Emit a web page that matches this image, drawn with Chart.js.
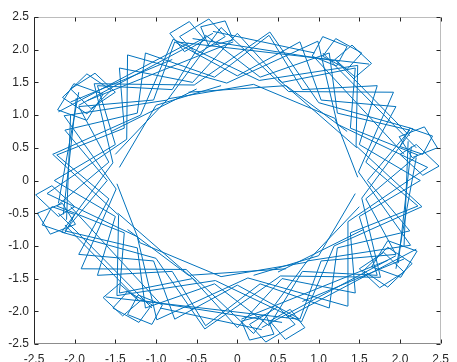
<!DOCTYPE html>
<html>
<head>
<meta charset="utf-8">
<script src="https://cdn.jsdelivr.net/npm/chart.js@4/dist/chart.umd.min.js"></script>
<style>
  html, body { margin: 0; padding: 0; background: #fff; }
  canvas { display: block; }
</style>
</head>
<body>
<canvas id="curve" width="457" height="362"></canvas>
<script>
// tick values on both axes
const xTicks = [-2.5, -2, -1.5, -1, -0.5, 0, 0.5, 1, 1.5, 2, 2.5];
const yTicks = [-2.5, -2, -1.5, -1, -0.5, 0, 0.5, 1, 1.5, 2, 2.5];

// long outer strokes (null = pen up)
const bands = [
  [-2.20, 1.05], [-0.60, 2.10], null,
  [-1.85, 1.22], [-0.05, 2.12], null,
  [-1.95, 1.15], [-0.30, 2.25], null,
  [-2.05, 1.20], [-0.80, 1.85], null,
  [-0.55, 2.17], [1.20, 1.83], null,
  [-0.75, 2.12], [1.62, 1.78], null,
  [-0.30, 2.28], [0.95, 1.95], null,
  [1.05, 1.95], [2.20, 0.50], null,
  [1.20, 1.85], [2.12, 0.68], null,
  [0.95, 1.88], [2.05, 0.40], null,
  [2.14, 0.52], [1.98, -1.26], null,
  [2.10, 0.60], [2.05, -1.00], null,
  [2.20, 0.35], [1.95, -1.35], null,
  [2.20, -1.05], [0.60, -2.10], null,
  [1.85, -1.22], [0.05, -2.12], null,
  [1.95, -1.15], [0.30, -2.25], null,
  [2.05, -1.20], [0.80, -1.85], null,
  [0.55, -2.17], [-1.20, -1.83], null,
  [0.75, -2.12], [-1.62, -1.78], null,
  [0.30, -2.28], [-0.95, -1.95], null,
  [-1.05, -1.95], [-2.20, -0.50], null,
  [-1.20, -1.85], [-2.12, -0.68], null,
  [-0.95, -1.88], [-2.05, -0.40], null,
  [-2.14, -0.52], [-1.98, 1.26], null,
  [-2.10, -0.60], [-2.05, 1.00], null,
  [-2.20, -0.35], [-1.95, 1.35]
];

// strokes along the inner hole
const inner = [
  [-1.50, 0.40], [-0.85, 1.25], [0.20, 1.47], [1.20, 0.95], [1.48, 0.05], null,
  [-1.45, 0.20], [-1.00, 1.15], [-0.20, 1.45], null,
  [-0.60, 1.35], [0.60, 1.45], [1.35, 0.75], null,
  [0.50, 1.55], [1.47, 0.50], null,
  [-1.55, 0.75], [-0.50, 1.40], null,
  [1.50, -0.40], [0.85, -1.25], [-0.20, -1.47], [-1.20, -0.95], [-1.48, -0.05], null,
  [1.45, -0.20], [1.00, -1.15], [0.20, -1.45], null,
  [0.60, -1.35], [-0.60, -1.45], [-1.35, -0.75], null,
  [-0.50, -1.55], [-1.47, -0.50], null,
  [1.55, -0.75], [0.50, -1.40]
];

// zig-zag strokes bouncing between the hole and the outer rim
const zigA = [
  [2.25, 0], [1.50, 0.55], [1.72, 1.45], [0.80, 1.39], [0.39, 2.22], [-0.28, 1.58],
  [-1.13, 1.95], [-1.23, 1.03], [-2.12, 0.77], [-1.60, 0], [-2.12, -0.77], [-1.23, -1.03],
  [-1.13, -1.95], [-0.28, -1.58], [0.39, -2.22], [0.80, -1.39], [1.72, -1.45], [1.50, -0.55],
  [2.25, 0]
];
const zigB = [
  [1.60, 0], [2.12, 0.77], [1.23, 1.03], [1.13, 1.95], [0.28, 1.58], [-0.39, 2.22],
  [-0.80, 1.39], [-1.72, 1.45], [-1.50, 0.55], [-2.25, 0], [-1.50, -0.55], [-1.72, -1.45],
  [-0.80, -1.39], [-0.39, -2.22], [0.28, -1.58], [1.13, -1.95], [1.23, -1.03], [2.12, -0.77],
  [1.60, 0]
];
const zigC = [
  [2.22, 0.39], [1.39, 0.80], [1.45, 1.72], [0.55, 1.50], [0, 2.25], [-0.55, 1.50],
  [-1.45, 1.72], [-1.39, 0.80], [-2.22, 0.39], [-1.58, -0.28], [-1.95, -1.13], [-1.03, -1.23],
  [-0.77, -2.12], [0, -1.60], [0.77, -2.12], [1.03, -1.23], [1.95, -1.13], [1.58, -0.28],
  [2.22, 0.39]
];
const zigD = [
  [1.58, 0.28], [1.95, 1.13], [1.03, 1.23], [0.77, 2.12], [0, 1.60], [-0.77, 2.12],
  [-1.03, 1.23], [-1.95, 1.13], [-1.58, 0.28], [-2.22, -0.39], [-1.39, -0.80], [-1.45, -1.72],
  [-0.55, -1.50], [0, -2.25], [0.55, -1.50], [1.45, -1.72], [1.39, -0.80], [2.22, -0.39],
  [1.58, 0.28]
];

// longer, flatter zig-zags
const zigE = [
  [2.34, 0.20], [1.23, 0.86], [0.99, 2.13], [-0.13, 1.49], [-1.35, 1.92], [-1.36, 0.63],
  [-2.34, -0.20], [-1.23, -0.86], [-0.99, -2.13], [0.13, -1.49], [1.35, -1.92], [1.36, -0.63],
  [2.34, 0.20]
];
const zigF = [
  [1.49, 0.13], [1.92, 1.35], [0.63, 1.36], [-0.20, 2.34], [-0.86, 1.23], [-2.13, 0.99],
  [-1.49, -0.13], [-1.92, -1.35], [-0.63, -1.36], [0.20, -2.34], [0.86, -1.23], [2.13, -0.99],
  [1.49, 0.13]
];
const zigG = [
  [2.16, 0.79], [1.00, 1.19], [0.40, 2.27], [-0.53, 1.46], [-1.76, 1.48], [-1.53, 0.27],
  [-2.16, -0.79], [-1.00, -1.19], [-0.40, -2.27], [0.53, -1.46], [1.76, -1.48], [1.53, -0.27],
  [2.16, 0.79]
];
const zigH = [
  [1.46, 0.53], [1.48, 1.76], [0.27, 1.53], [-0.79, 2.16], [-1.19, 1.00], [-2.27, 0.40],
  [-1.46, -0.53], [-1.48, -1.76], [-0.27, -1.53], [0.79, -2.16], [1.19, -1.00], [2.27, -0.40],
  [1.46, 0.53]
];

// the little tilted squares sticking out at each lobe
const lobes = [
  [2.12, 0.80], [2.40, 0.68], [2.28, 0.40], [2.00, 0.52], [2.12, 0.80], null,
  [2.30, 0.82], [2.46, 0.50], [2.15, 0.35], [1.99, 0.67], [2.30, 0.82], null,
  [2.20, 0.55], [2.48, 0.22], [2.28, 0.08], [2.00, 0.40], [2.20, 0.55], null,
  [1.05, 2.20], [1.35, 2.05], [1.22, 1.75], [0.92, 1.90], [1.05, 2.20], null,
  [1.21, 2.17], [1.53, 1.95], [1.35, 1.70], [1.05, 1.90], [1.21, 2.17], null,
  [1.41, 2.07], [1.65, 1.79], [1.45, 1.58], [1.20, 1.85], [1.41, 2.07], null,
  [-0.83, 2.25], [-0.59, 2.43], [-0.40, 2.15], [-0.65, 1.97], [-0.83, 2.25], null,
  [-0.71, 2.20], [-0.35, 2.47], [-0.15, 2.20], [-0.50, 1.93], [-0.71, 2.20], null,
  [-0.45, 2.35], [-0.15, 2.44], [-0.05, 2.15], [-0.35, 2.05], [-0.45, 2.35], null,
  [-2.21, 1.08], [-2.01, 1.48], [-1.65, 1.32], [-1.85, 0.92], [-2.21, 1.08], null,
  [-2.15, 1.27], [-1.85, 1.63], [-1.55, 1.38], [-1.85, 1.02], [-2.15, 1.27], null,
  [-2.05, 1.40], [-1.75, 1.64], [-1.50, 1.35], [-1.80, 1.10], [-2.05, 1.40], null,
  [-2.12, -0.80], [-2.40, -0.68], [-2.28, -0.40], [-2.00, -0.52], [-2.12, -0.80], null,
  [-2.30, -0.82], [-2.46, -0.50], [-2.15, -0.35], [-1.99, -0.67], [-2.30, -0.82], null,
  [-2.20, -0.55], [-2.48, -0.22], [-2.28, -0.08], [-2.00, -0.40], [-2.20, -0.55], null,
  [-1.05, -2.20], [-1.35, -2.05], [-1.22, -1.75], [-0.92, -1.90], [-1.05, -2.20], null,
  [-1.21, -2.17], [-1.53, -1.95], [-1.35, -1.70], [-1.05, -1.90], [-1.21, -2.17], null,
  [-1.41, -2.07], [-1.65, -1.79], [-1.45, -1.58], [-1.20, -1.85], [-1.41, -2.07], null,
  [0.83, -2.25], [0.59, -2.43], [0.40, -2.15], [0.65, -1.97], [0.83, -2.25], null,
  [0.71, -2.20], [0.35, -2.47], [0.15, -2.20], [0.50, -1.93], [0.71, -2.20], null,
  [0.45, -2.35], [0.15, -2.44], [0.05, -2.15], [0.35, -2.05], [0.45, -2.35], null,
  [2.21, -1.08], [2.01, -1.48], [1.65, -1.32], [1.85, -0.92], [2.21, -1.08], null,
  [2.15, -1.27], [1.85, -1.63], [1.55, -1.38], [1.85, -1.02], [2.15, -1.27], null,
  [2.05, -1.40], [1.75, -1.64], [1.50, -1.35], [1.80, -1.10], [2.05, -1.40]
];

const LINE = "#0072bd";
const AXIS = "#262626";

function toPoints(pairs) {
  return pairs.map(p => p ? { x: p[0], y: p[1] } : { x: null, y: null });
}

function stroke(pairs) {
  return {
    data: toPoints(pairs),
    showLine: true,
    spanGaps: false,
    borderColor: LINE,
    borderWidth: 1,
    pointRadius: 0,
    fill: false,
  };
}

// MATLAB style box: dark left axis, grey top/bottom/right, ticks pointing in
const boxPlugin = {
  id: "box",
  afterDraw(chart) {
    const { ctx, chartArea: a, scales } = chart;
    const L = Math.round(a.left) + 0.5, R = Math.round(a.right) - 0.5;
    const T = Math.round(a.top) + 0.5, B = Math.round(a.bottom) - 0.5;
    ctx.save();
    ctx.lineWidth = 1;
    ctx.strokeStyle = "#bcbcbc";
    ctx.beginPath();
    ctx.moveTo(L, T); ctx.lineTo(R, T); ctx.lineTo(R, B);
    ctx.stroke();
    ctx.strokeStyle = "#8c8c8c";
    ctx.beginPath();
    ctx.moveTo(L, B); ctx.lineTo(R, B);
    ctx.stroke();
    ctx.strokeStyle = AXIS;
    ctx.beginPath();
    ctx.moveTo(L, T); ctx.lineTo(L, B);
    const len = 4;
    xTicks.forEach(v => {
      const x = Math.round(scales.x.getPixelForValue(v)) + 0.5;
      ctx.moveTo(x, B); ctx.lineTo(x, B - len);
      ctx.moveTo(x, T); ctx.lineTo(x, T + len);
    });
    yTicks.forEach(v => {
      const y = Math.round(scales.y.getPixelForValue(v)) + 0.5;
      ctx.moveTo(L, y); ctx.lineTo(L + len, y);
      ctx.moveTo(R, y); ctx.lineTo(R - len, y);
    });
    ctx.stroke();
    ctx.restore();
  },
};

const tickFont = { family: "'Liberation Sans', Arial, Helvetica, sans-serif", size: 12 };

new Chart(document.getElementById("curve").getContext("2d"), {
  type: "scatter",
  data: {
    datasets: [bands, inner, zigA, zigB, zigC, zigD, zigE, zigF, zigG, zigH, lobes].map(stroke)
  },
  options: {
    responsive: false,
    animation: false,
    layout: { padding: { top: 17, right: 10, left: 0, bottom: 0 } },
    plugins: { legend: { display: false }, tooltip: { enabled: false } },
    scales: {
      x: {
        type: "linear",
        min: -2.5, max: 2.5,
        afterBuildTicks: s => { s.ticks = xTicks.map(v => ({ value: v })); },
        afterFit: s => { s.height = 18; },
        grid: { display: false, drawTicks: false },
        border: { display: false },
        ticks: { color: AXIS, font: tickFont, padding: 8, maxRotation: 0, autoSkip: false },
      },
      y: {
        type: "linear",
        min: -2.5, max: 2.5,
        afterBuildTicks: s => { s.ticks = yTicks.map(v => ({ value: v })); },
        afterFit: s => { s.width = 34; },
        grid: { display: false, drawTicks: false },
        border: { display: false },
        ticks: { color: AXIS, font: tickFont, padding: 5, autoSkip: false },
      },
    },
  },
  plugins: [boxPlugin],
});
</script>
</body>
</html>
